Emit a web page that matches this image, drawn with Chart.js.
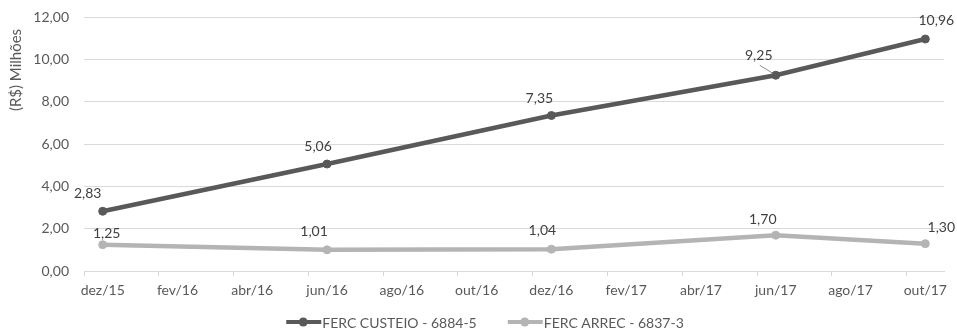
<!DOCTYPE html>
<html>
<head>
<meta charset="utf-8">
<script src="https://cdn.jsdelivr.net/npm/chart.js@4.4.0/dist/chart.umd.min.js"></script>
<style>
  html, body { margin: 0; padding: 0; background: #fff; }
  #wrap { width: 957px; height: 333px; position: relative; }
</style>
</head>
<body>
<div id="wrap"><canvas id="chart"></canvas></div>
<script>
// months on the date axis (one slot per month)
const months = ["dez/15","jan/16","fev/16","mar/16","abr/16","mai/16","jun/16","jul/16","ago/16","set/16","out/16","nov/16",
  "dez/16","jan/17","fev/17","mar/17","abr/17","mai/17","jun/17","jul/17","ago/17","set/17","out/17"];
// values in R$ millions, null where no reading
const custeio = [2.83,null,null,null,null,null,5.06,null,null,null,null,null,7.35,null,null,null,null,null,9.25,null,null,null,10.96];
const arrec   = [1.25,null,null,null,null,null,1.01,null,null,null,null,null,1.04,null,null,null,null,null,1.70,null,null,null,1.30];
const yTicks = [0, 2, 4, 6, 8, 10, 12];
const yTitle = "(R$) Milhões";

// label nudges (px) for the data labels, per point index
const nudgeCusteio = {0:[-15,-18], 6:[-9,-18], 12:[-12,-17], 18:[-17,-20], 22:[11,-19]};
const nudgeArrec   = {0:[4,-11], 6:[-13,-18], 12:[-9,-19], 18:[-13,-16], 22:[16,-16]};

const darkCol = "#595959";
const lightCol = "#b4b4b4";
const fontFam = "Lato, 'Open Sans', sans-serif";

function fmt(v) { return v.toFixed(2).replace(".", ","); }

const labelPlugin = {
  id: "valueLabels",
  afterDatasetsDraw(chart) {
    const ctx = chart.ctx;
    ctx.save();
    ctx.font = "14px " + fontFam;
    ctx.fillStyle = "#404040";
    ctx.textAlign = "center";
    ctx.textBaseline = "middle";
    chart.data.datasets.forEach((ds, di) => {
      const meta = chart.getDatasetMeta(di);
      const nudge = di === 0 ? nudgeCusteio : nudgeArrec;
      ds.data.forEach((v, i) => {
        if (v === null) return;
        const p = meta.data[i];
        const n = nudge[i] || [0, -16];
        const lx = p.x + n[0], ly = p.y + n[1];
        if (di === 0 && i === 18) {
          // small leader line
          ctx.strokeStyle = "#8c8c8c"; ctx.lineWidth = 1;
          ctx.beginPath(); ctx.moveTo(lx + 1, ly + 10); ctx.lineTo(p.x - 3, p.y - 2); ctx.stroke();
        }
        ctx.fillText(fmt(v), lx, ly);
      });
    });
    ctx.restore();
  }
};

// excel-like legend: line with marker, text right after
// plus the y axis title, which excel puts near the top
const legendPlugin = {
  id: "lineLegend",
  afterDraw(chart) {
    const ctx = chart.ctx;
    const iconW = 38, gap = 29;
    ctx.save();
    ctx.font = "14px " + fontFam;
    const items = chart.data.datasets.map(ds => ({ text: ds.label, color: ds.borderColor, w: ctx.measureText(ds.label).width }));
    const total = items.reduce((s, it) => s + iconW + it.w, 0) + gap * (items.length - 1);
    let x = 484 - total / 2;
    const y = 322;
    items.forEach(it => {
      ctx.strokeStyle = it.color; ctx.lineWidth = 4; ctx.lineCap = "butt";
      ctx.beginPath(); ctx.moveTo(x + 2, y); ctx.lineTo(x + iconW - 1, y); ctx.stroke();
      ctx.fillStyle = it.color;
      ctx.beginPath(); ctx.arc(x + iconW / 2, y, 4.5, 0, Math.PI * 2); ctx.fill();
      ctx.fillStyle = "#595959";
      ctx.textAlign = "left"; ctx.textBaseline = "middle";
      ctx.fillText(it.text, x + iconW, y + 1);
      x += iconW + it.w + gap;
    });
    // y title
    ctx.font = "15px " + fontFam;
    ctx.fillStyle = "#595959";
    ctx.translate(16, 70);
    ctx.rotate(-Math.PI / 2);
    ctx.textAlign = "center"; ctx.textBaseline = "middle";
    ctx.fillText(yTitle, 0, 0);
    ctx.restore();
  }
};

new Chart(document.getElementById("chart"), {
  type: "line",
  plugins: [labelPlugin, legendPlugin],
  data: {
    labels: months,
    datasets: [
      { label: "FERC CUSTEIO - 6884-5", data: custeio, borderColor: darkCol, backgroundColor: darkCol,
        borderWidth: 4.5, pointRadius: 4, pointBorderWidth: 1, pointHoverRadius: 4, spanGaps: true },
      { label: "FERC ARREC - 6837-3", data: arrec, borderColor: lightCol, backgroundColor: lightCol,
        borderWidth: 4.5, pointRadius: 4, pointBorderWidth: 1, pointHoverRadius: 4, spanGaps: true }
    ]
  },
  options: {
    responsive: true,
    maintainAspectRatio: false,
    animation: false,
    layout: { padding: { left: 0, right: 13, top: 0, bottom: 28 } },
    plugins: {
      tooltip: { enabled: false },
      legend: { display: false }
    },
    scales: {
      x: {
        offset: true,
        grid: {
          offset: true,
          drawOnChartArea: false,
          drawTicks: true,
          tickLength: 5,
          color: (c) => (c.index % 2 === 0 ? "#d9d9d9" : "rgba(0,0,0,0)")
        },
        border: { color: "#d9d9d9" },
        ticks: {
          autoSkip: false,
          maxRotation: 0,
          padding: 6,
          color: "#595959",
          font: { family: fontFam, size: 14 },
          callback: function (val, idx) { return idx % 2 === 0 ? months[idx] : ""; }
        }
      },
      y: {
        min: 0,
        max: 12,
        afterBuildTicks: (s) => { s.ticks = yTicks.map(v => ({ value: v })); },
        afterFit: (s) => { s.width = 84; s.paddingTop = 17; },
        grid: { color: "#d9d9d9", drawTicks: false },
        border: { display: false },
        ticks: {
          padding: 15,
          color: "#595959",
          font: { family: fontFam, size: 14 },
          callback: (v) => fmt(v)
        }
      }
    }
  }
});
</script>
</body>
</html>
